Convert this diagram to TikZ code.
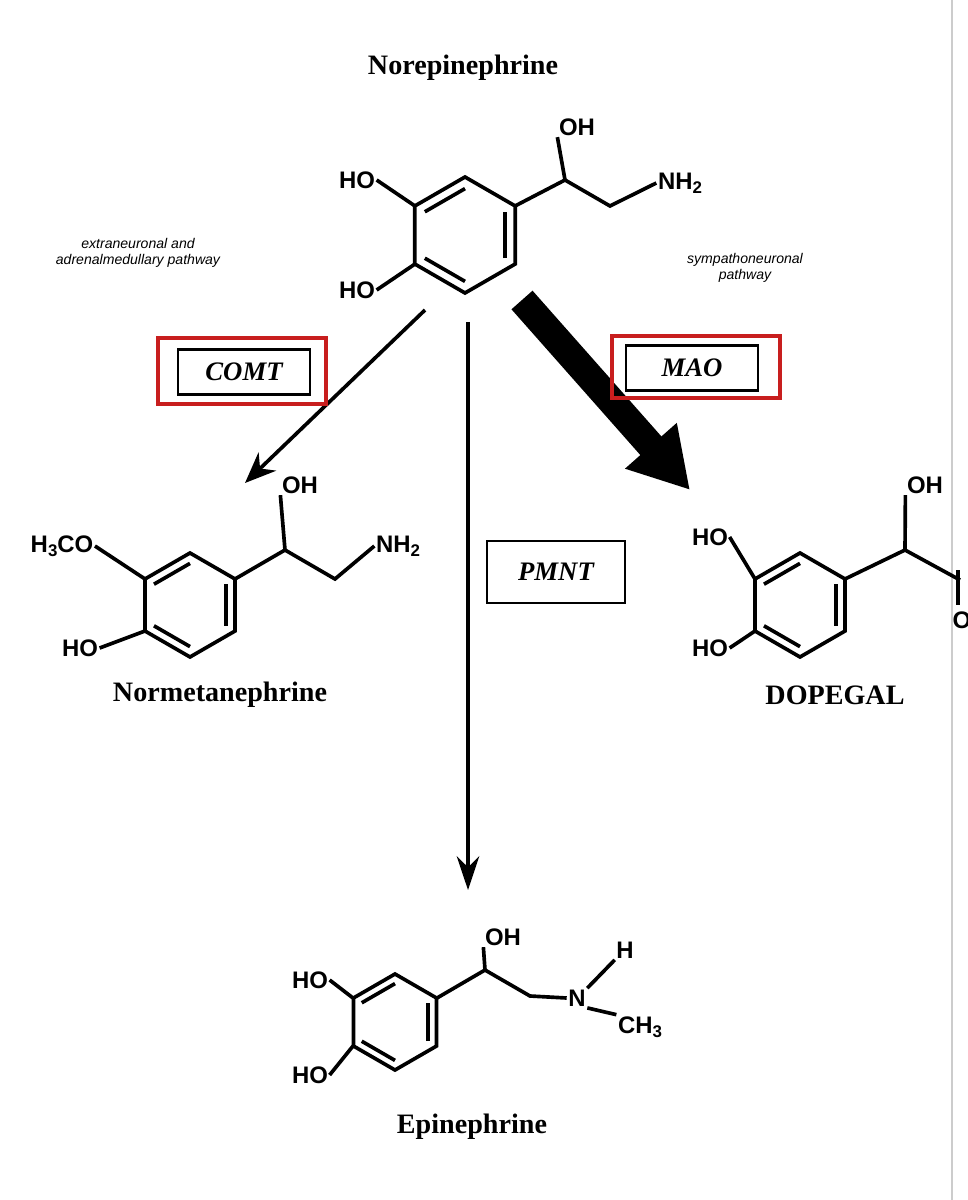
\documentclass[tikz,border=0pt]{standalone}
\usepackage{fontspec}
\setmainfont{Liberation Serif}
\setsansfont{Liberation Sans}
\usetikzlibrary{arrows.meta,calc}
\definecolor{boxred}{RGB}{200,30,30}
\tikzset{
  bond/.style={line width=2.6pt},
  atom/.style={font=\sffamily\bfseries\fontsize{17}{17}\selectfont, inner sep=1pt},
  title/.style={font=\bfseries\fontsize{20}{20}\selectfont},
  path label/.style={font=\sffamily\itshape\fontsize{10}{11}\selectfont, align=center},
  enzyme/.style={draw, line width=1.5pt, font=\bfseries\itshape\fontsize{19}{19}\selectfont, minimum width=94pt, minimum height=32pt},
  redbox/.style={draw=boxred, line width=2.2pt},
}
% benzene ring: center, radius
\newcommand{\ringat}[3]{%
  \draw[bond] (#1,#2) ++(90:#3) -- ++(-30:#3) -- ++(-90:#3) -- ++(-150:#3) -- ++(150:#3) -- ++(90:#3) -- cycle;
  \draw[bond] ($(#1,#2)+(30:0.8*#3)$) -- ($(#1,#2)+(-30:0.8*#3)$);
  \draw[bond] ($(#1,#2)+(-90:0.8*#3)$) -- ($(#1,#2)+(-150:0.8*#3)$);
  \draw[bond] ($(#1,#2)+(150:0.8*#3)$) -- ($(#1,#2)+(90:0.8*#3)$);
}
\newcommand{\sub}[1]{\raisebox{-0.35ex}{\fontsize{12}{12}\selectfont #1}}
\begin{document}
\begin{tikzpicture}[x=0.025cm, y=-0.025cm]
\useasboundingbox (0,0) rectangle (967,1200);
\clip (0,0) rectangle (967,1200);
\draw[gray!40, line width=1pt] (952,0) -- (952,1200);

% Norepinephrine
\node[title] (tNE) at (463,68) {Norepinephrine};
\ringat{465}{235}{58}
\node[atom] (ho1) at (357,180) {HO};
\node[atom] (ho2) at (357,290) {HO};
\draw[bond] (ho1.east) -- (415,206);
\draw[bond] (ho2.east) -- (415,264);
\node[atom] (oh1) at (577,127) {OH};
\node[atom] (nh1) at (680,183) {NH\sub{2}};
\draw[bond] (515,206) -- (565,180) -- (oh1.south west);
\draw[bond] (565,180) -- (610,206) -- (nh1.west);

\node[path label] (lext) at (138,253) {extraneuronal and\\adrenalmedullary pathway};
\node[path label] (lsym) at (745,268) {sympathoneuronal\\pathway};

% Normetanephrine
\ringat{190}{605}{52}
\node[atom] (h3co) at (62,546) {H\sub{3}CO};
\node[atom] (ho3) at (80,648) {HO};
\draw[bond] (h3co.east) -- (145,579);
\draw[bond] (ho3.east) -- (145,631);
\node[atom] (oh3) at (300,485) {OH};
\node[atom] (nh3) at (398,546) {NH\sub{2}};
\draw[bond] (235,579) -- (285,550) -- (oh3.south west);
\draw[bond] (285,550) -- (335,579) -- (nh3.west);
\node[title] (tNM) at (220,695) {Normetanephrine};

% DOPEGAL
\ringat{800}{605}{52}
\node[atom] (ho4) at (710,537) {HO};
\node[atom] (ho5) at (710,648) {HO};
\draw[bond] (ho4.east) -- (755,579);
\draw[bond] (ho5.east) -- (755,631);
\node[atom] (oh4) at (925,485) {OH};
\draw[bond] (845,579) -- (905,550) -- (oh4.south west);
\draw[bond] (905,550) -- (960,580);
\draw[bond] (958,570) -- (958,605);
\node[atom] (o4) at (962,620) {O};
\node[title] (tDG) at (835,695) {DOPEGAL};

% Epinephrine
\ringat{395}{1022}{48}
\node[atom] (ho6) at (310,980) {HO};
\node[atom] (ho7) at (310,1075) {HO};
\draw[bond] (ho6.east) -- (353,998);
\draw[bond] (ho7.east) -- (353,1046);
\node[atom] (oh6) at (503,937) {OH};
\draw[bond] (437,998) -- (485,970) -- (oh6.south west);
\node[atom] (n6) at (577,998) {N};
\node[atom] (h6) at (625,950) {H};
\node[atom] (ch6) at (640,1027) {CH\sub{3}};
\draw[bond] (485,970) -- (530,996) -- (n6.west);
\draw[bond] (n6.north east) -- (h6.south west);
\draw[bond] (n6.south east) -- (ch6.north west);
\node[title] (tEP) at (472,1127) {Epinephrine};

% reactions
\coordinate (cS) at (425,310);
\coordinate (cE) at (245,483);
\draw[-{Stealth[length=22pt,width=18pt]}, line width=2.6pt] (cS) -- (cE);
\coordinate (pS) at (468,322);
\coordinate (pE) at (468,890);
\draw[-{Stealth[length=24pt,width=16pt]}, line width=2.6pt] (pS) -- (pE);
\coordinate (mS) at (522,300);
\coordinate (mE) at (690,490);
\draw[-{Triangle[length=42pt,width=46pt]}, line width=20pt] (mS) -- (mE);

\node[enzyme, fill=white] (comt) at (244,372) {COMT};
\node[enzyme, fill=white] (mao) at (692,368) {MAO};
\node[enzyme, minimum width=98pt, minimum height=44pt] (pmnt) at (556,572) {PMNT};
\draw[redbox] (158,338) rectangle (326,404);
\draw[redbox] (612,336) rectangle (780,398);
\end{tikzpicture}
\end{document}
